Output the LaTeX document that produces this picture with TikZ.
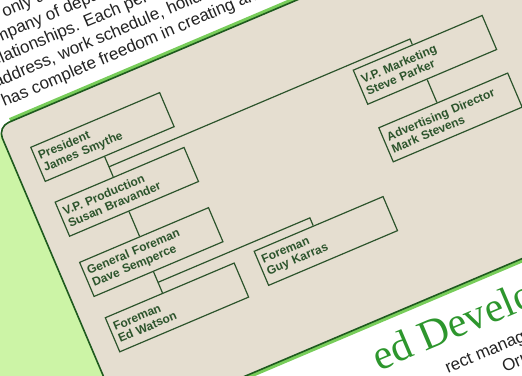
\documentclass[tikz,border=0pt]{standalone}
\usepackage{fontspec}
\setmainfont{Liberation Serif}
\newfontfamily\chartfont{Liberation Sans}
\usetikzlibrary{calc}

\definecolor{screenbg}{RGB}{229,222,208}
\definecolor{sidegreen}{RGB}{204,244,166}
\definecolor{framegreen}{RGB}{30,90,30}
\definecolor{glowgreen}{RGB}{120,205,90}
\definecolor{inkgreen}{RGB}{44,84,44}
\definecolor{titlegreen}{RGB}{45,150,45}
\definecolor{printink}{RGB}{35,35,35}

\begin{document}
\begin{tikzpicture}[x=1pt, y=1pt,
    person/.style={draw=inkgreen, line width=1.2pt, text=inkgreen, anchor=north west,
        minimum width=140pt, minimum height=37pt, text width=132pt,
        inner xsep=4pt, inner ysep=0pt, align=left,
        font=\chartfont\bfseries\fontsize{12}{13}\selectfont},
    link/.style={draw=inkgreen, line width=1.2pt},
    printline/.style={anchor=base west, inner sep=0pt, text=printink,
        font=\chartfont\fontsize{17}{21}\selectfont},
    ]
    \useasboundingbox (0,0) rectangle (522,375);
    \clip (0,0) rectangle (522,375);
    \fill[white] (0,0) rectangle (522,375);

    \begin{scope}[transform canvas={shift={(30pt,228pt)}, rotate=23}]
        % paper and screen
        \fill[sidegreen] (-300,31) rectangle (-22,-500);
        \fill[screenbg, rounded corners=12pt] (-22,31) rectangle (700,-295);
        \draw[glowgreen, line width=3.5pt] (-8,33) -- (700,33);
        \draw[glowgreen, line width=3.5pt] (-22,-297) -- (700,-297);
        \draw[framegreen, line width=1.6pt, rounded corners=12pt]
            (700,31) -- (-22,31) -- (-22,-295) -- (700,-295);

        % text above the screen
        \foreach \txt [count=\i] in {has complete freedom in creating an,
                {address, work schedule, holidays},
                {relationships. Each person's},
                company of department,
                with only a}
            \node[printline] (top-\i) at (-8,{47+20.5*(\i-1)}) {\txt};

        % chart boxes
        \node[person] (pres) at (0,0) {President\\James Smythe};
        \node[person] (vpp) at (1,-60) {V.P. Production\\Susan Bravander};
        \node[person] (gf) at (0,-125) {General Foreman\\Dave Semperce};
        \node[person] (ed) at (2,-186) {Foreman\\Ed Watson};
        \node[person] (guy) at (165,-183) {Foreman\\Guy Karras};
        \node[person] (vpm) at (327,-55) {V.P. Marketing\\Steve Parker};
        \node[person] (adv) at (328,-118) {Advertising Director\\Mark Stevens};

        % president to both vice presidents
        \coordinate (pres-drop) at ($(pres.south west)!0.46!(pres.south east)$);
        \coordinate (vpp-in) at (pres-drop |- vpp.north);
        \coordinate (pres-bus) at ($(pres-drop)!0.5!(vpp-in)$);
        \coordinate (vpm-in) at ($(vpm.north west)!0.46!(vpm.north east)$);
        \draw[link] (pres-drop) -- (vpp-in);
        \draw[link] (pres-bus) -| (vpm-in);

        % production side
        \coordinate (vpp-drop) at ($(vpp.south west)!0.46!(vpp.south east)$);
        \draw[link] (vpp-drop) -- (vpp-drop |- gf.north);
        \coordinate (gf-drop) at ($(gf.south west)!0.46!(gf.south east)$);
        \coordinate (ed-in) at (gf-drop |- ed.north);
        \coordinate (gf-bus) at ($(gf-drop)!0.5!(ed-in)$);
        \coordinate (guy-in) at ($(guy.north west)!0.46!(guy.north east)$);
        \draw[link] (gf-drop) -- (ed-in);
        \draw[link] (gf-bus) -| (guy-in);

        % marketing side
        \coordinate (vpm-drop) at ($(vpm.south west)!0.46!(vpm.south east)$);
        \draw[link] (vpm-drop) -- (vpm-drop |- adv.north);

        % heading and text below the screen
        \node[anchor=base west, inner sep=0pt, text=titlegreen,
            font=\fontsize{42}{48}\selectfont] (title) at (234,-343) {ed Develo};
        \node[printline] (body-1) at (296,-372) {rect management};
        \node[printline] (body-2) at (349,-393) {Orr. it};
    \end{scope}
\end{tikzpicture}
\end{document}
